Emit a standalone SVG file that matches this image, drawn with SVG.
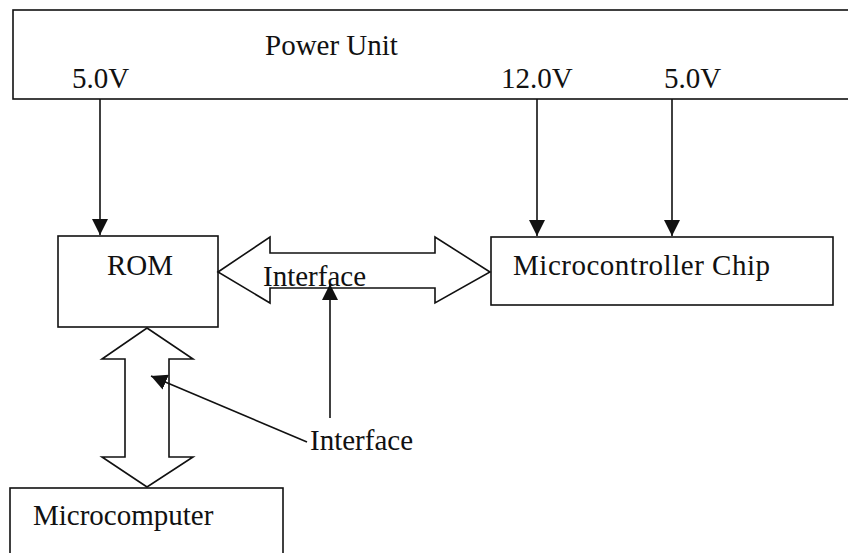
<svg xmlns="http://www.w3.org/2000/svg" width="848" height="553" viewBox="0 0 848 553">
  <style>
    .box { fill: #fff; stroke: #111; stroke-width: 1.6; }
    .lbl { font-family: "Liberation Serif", "Times New Roman", serif; font-size: 29px; fill: #111; }
    .wire { fill: none; stroke: #111; stroke-width: 1.6; }
    .bus { fill: #fff; stroke: #111; stroke-width: 1.6; stroke-linejoin: miter; }
  </style>
  <defs>
    <marker id="head" viewBox="0 0 10 10" refX="10" refY="5" markerWidth="10" markerHeight="10" markerUnits="userSpaceOnUse" orient="auto">
      <path d="M0,0 L10,5 L0,10 Z" fill="#111"/>
    </marker>
    <marker id="headBig" viewBox="0 0 16 16" refX="16" refY="8" markerWidth="16" markerHeight="16" markerUnits="userSpaceOnUse" orient="auto">
      <path d="M0,0 L16,8 L0,16 Z" fill="#111"/>
    </marker>
  </defs>
  <rect width="848" height="553" fill="#fff"/>

  <!-- Power supply block (runs off the right edge) -->
  <g id="power-unit">
    <rect class="box" x="13" y="10" width="850" height="89"/>
    <text class="lbl" x="265" y="55">Power Unit</text>
    <text class="lbl" x="72" y="88">5.0V</text>
    <text class="lbl" x="501" y="88">12.0V</text>
    <text class="lbl" x="664" y="88">5.0V</text>
  </g>

  <g id="rom">
    <rect class="box" x="58" y="236" width="160" height="91"/>
    <text class="lbl" x="107" y="275">ROM</text>
  </g>

  <g id="microcontroller">
    <rect class="box" x="491" y="237" width="342" height="68"/>
    <text class="lbl" x="513" y="275" font-size="30" textLength="257">Microcontroller Chip</text>
  </g>

  <!-- Host computer block (runs off the bottom edge) -->
  <g id="microcomputer">
    <rect class="box" x="10" y="488" width="273" height="80"/>
    <text class="lbl" x="33" y="525" font-size="30">Microcomputer</text>
  </g>

  <g id="connectors">
    <!-- supply rails -->
    <line class="wire" x1="100" y1="99" x2="100" y2="235" marker-end="url(#headBig)"/>
    <line class="wire" x1="537" y1="99" x2="537" y2="236" marker-end="url(#headBig)"/>
    <line class="wire" x1="672" y1="99" x2="672" y2="236" marker-end="url(#headBig)"/>

    <!-- ROM <-> microcontroller bus -->
    <path class="bus" d="M218,272 L270,237 L270,253 L435,253 L435,237 L490,272 L435,303 L435,288 L270,288 L270,303 Z"/>
    <text class="lbl" x="263" y="286">Interface</text>

    <!-- ROM <-> microcomputer bus -->
    <path class="bus" d="M147,328 L193,359 L169,359 L169,457 L193,457 L147,487 L102,457 L125,457 L125,359 L102,359 Z"/>

    <!-- interface callouts -->
    <line class="wire" x1="330" y1="418" x2="330" y2="284" marker-end="url(#headBig)"/>
    <line class="wire" x1="307" y1="442" x2="151" y2="376" marker-end="url(#headBig)"/>
    <text class="lbl" x="310" y="450">Interface</text>
  </g>
</svg>
